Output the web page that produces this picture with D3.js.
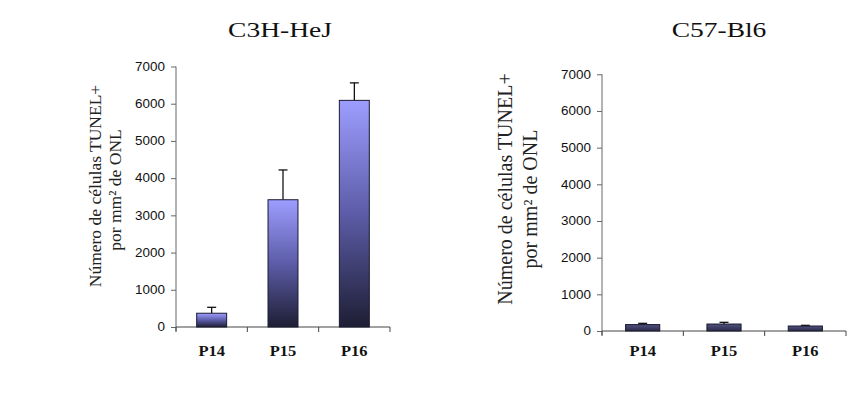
<!DOCTYPE html>
<html>
<head>
<meta charset="utf-8">
<script src="https://cdn.jsdelivr.net/npm/d3@7"></script>
<style>
  body { margin: 0; background: #fff; }
  svg { display: block; }
  .tick-lbl { font-family: "Liberation Sans", Arial, sans-serif; font-size: 12px; fill: #111; }
  .cat-lbl { font-family: "Liberation Serif", "Times New Roman", serif; font-size: 15px; font-weight: bold; fill: #111; }
  .title { font-family: "Liberation Serif", "Times New Roman", serif; font-size: 22px; fill: #111; }
  .ylab { font-family: "Liberation Serif", "Times New Roman", serif; fill: #222; }
</style>
</head>
<body>
<div id="chart"></div>
<script>
// data
var categories = ["P14", "P15", "P16"];
var c3hMeans  = [370, 3420, 6090];
var c3hErrors = [160, 800, 470];
var c57Means  = [175, 190, 136];
var c57Errors = [35, 47, 19];
var yTicks = [0, 1000, 2000, 3000, 4000, 5000, 6000, 7000];
var yLabel1 = "Número de células TUNEL+";
var yLabel2 = "por mm² de ONL";

var width = 867, height = 395;
var svg = d3.select("#chart").append("svg")
    .attr("width", width)
    .attr("height", height);

var defs = svg.append("defs");
var grad = defs.append("linearGradient")
    .attr("id", "barGrad")
    .attr("x1", 0).attr("y1", 0).attr("x2", 0).attr("y2", 1);
grad.append("stop").attr("offset", "0%").attr("stop-color", "#9d9dff");
grad.append("stop").attr("offset", "50%").attr("stop-color", "#5c5ca8");
grad.append("stop").attr("offset", "100%").attr("stop-color", "#1e1e34");

var gradDark = defs.append("linearGradient")
    .attr("id", "barGradDark")
    .attr("x1", 0).attr("y1", 0).attr("x2", 0).attr("y2", 1);
gradDark.append("stop").attr("offset", "0%").attr("stop-color", "#505080");
gradDark.append("stop").attr("offset", "100%").attr("stop-color", "#2a2a48");

// the original text is drawn a bit wider than the font, so stretch it sideways
function stretched(x, y, sx) {
  return "translate(" + x + "," + y + ") scale(" + sx + ",1)";
}

function drawChart(opts) {
  var g = svg.append("g");

  var x = d3.scaleBand()
      .domain(categories)
      .range([opts.x0, opts.x1])
      .paddingInner(0.58)
      .paddingOuter(0.29);

  var y = d3.scaleLinear()
      .domain([0, 7000])
      .range([opts.y0, opts.y1]);

  // title
  g.append("text")
      .attr("class", "title")
      .attr("transform", stretched(opts.titleX, 37, 1.25))
      .attr("text-anchor", "middle")
      .text(opts.title);

  // y axis
  var yAxis = d3.axisLeft(y)
      .tickValues(yTicks)
      .tickSize(5)
      .tickPadding(6)
      .tickFormat(d3.format("d"));
  var ya = g.append("g")
      .attr("transform", "translate(" + opts.x0 + ",0)")
      .call(yAxis);
  ya.select(".domain").remove();
  ya.selectAll(".tick line").attr("stroke", "#666");
  ya.selectAll(".tick text")
      .attr("class", "tick-lbl")
      .attr("font-size", null).attr("font-family", null)
      .attr("transform", "translate(-11,0) scale(1.12,1) translate(11,0)");
  ya.append("line")
      .attr("x1", 0).attr("x2", 0)
      .attr("y1", y(7000)).attr("y2", y(0) + 4)
      .attr("stroke", "#666");

  // x axis
  g.append("line")
      .attr("x1", opts.x0).attr("x2", opts.x1)
      .attr("y1", y(0)).attr("y2", y(0))
      .attr("stroke", "#444");
  var step = x.step();
  g.selectAll(".xdiv")
      .data(d3.range(categories.length + 1))
      .enter().append("line")
      .attr("class", "xdiv")
      .attr("x1", function(i) { return opts.x0 + i * step; })
      .attr("x2", function(i) { return opts.x0 + i * step; })
      .attr("y1", y(0)).attr("y2", y(0) + 5)
      .attr("stroke", "#444");

  g.selectAll(".cat-lbl")
      .data(categories)
      .enter().append("text")
      .attr("class", "cat-lbl")
      .attr("transform", function(d) { return stretched(x(d) + x.bandwidth() / 2, 356, 1.1); })
      .attr("text-anchor", "middle")
      .text(function(d) { return d; });

  // error bars (upper only)
  var cap = 4.5;
  var eb = g.selectAll(".err")
      .data(opts.means)
      .enter().append("g")
      .attr("class", "err");
  eb.append("line")
      .attr("x1", function(d, i) { return x(categories[i]) + x.bandwidth() / 2; })
      .attr("x2", function(d, i) { return x(categories[i]) + x.bandwidth() / 2; })
      .attr("y1", function(d) { return y(d); })
      .attr("y2", function(d, i) { return y(d + opts.errors[i]); })
      .attr("stroke", "#000").attr("stroke-width", 1.2);
  eb.append("line")
      .attr("x1", function(d, i) { return x(categories[i]) + x.bandwidth() / 2 - cap; })
      .attr("x2", function(d, i) { return x(categories[i]) + x.bandwidth() / 2 + cap; })
      .attr("y1", function(d, i) { return y(d + opts.errors[i]); })
      .attr("y2", function(d, i) { return y(d + opts.errors[i]); })
      .attr("stroke", "#000").attr("stroke-width", 1.2);

  // bars
  g.selectAll(".bar")
      .data(opts.means)
      .enter().append("rect")
      .attr("class", "bar")
      .attr("x", function(d, i) { return x(categories[i]); })
      .attr("width", x.bandwidth())
      .attr("y", function(d) { return y(d); })
      .attr("height", function(d) { return y(0) - y(d); })
      .attr("fill", "url(#" + opts.grad + ")")
      .attr("stroke", "#1a1a30")
      .attr("stroke-width", 1);

  // y label, two lines
  g.append("text")
      .attr("class", "ylab")
      .attr("font-size", opts.labSize)
      .attr("text-anchor", "middle")
      .attr("dominant-baseline", "central")
      .attr("transform", "translate(" + opts.lab1[0] + "," + opts.lab1[1] + ") rotate(-90)")
      .text(yLabel1);
  g.append("text")
      .attr("class", "ylab")
      .attr("font-size", opts.labSize)
      .attr("text-anchor", "middle")
      .attr("dominant-baseline", "central")
      .attr("transform", "translate(" + opts.lab2[0] + "," + opts.lab2[1] + ") rotate(-90)")
      .text(yLabel2);
}

drawChart({
  title: "C3H-HeJ", titleX: 280,
  means: c3hMeans, errors: c3hErrors,
  x0: 176, x1: 390, y0: 327, y1: 66.5,
  grad: "barGrad",
  labSize: 17.5, lab1: [95, 186], lab2: [115, 190]
});

drawChart({
  title: "C57-Bl6", titleX: 719,
  means: c57Means, errors: c57Errors,
  x0: 602, x1: 846, y0: 331, y1: 74.3,
  grad: "barGradDark",
  labSize: 20, lab1: [505, 189], lab2: [530, 199]
});
</script>
</body>
</html>
